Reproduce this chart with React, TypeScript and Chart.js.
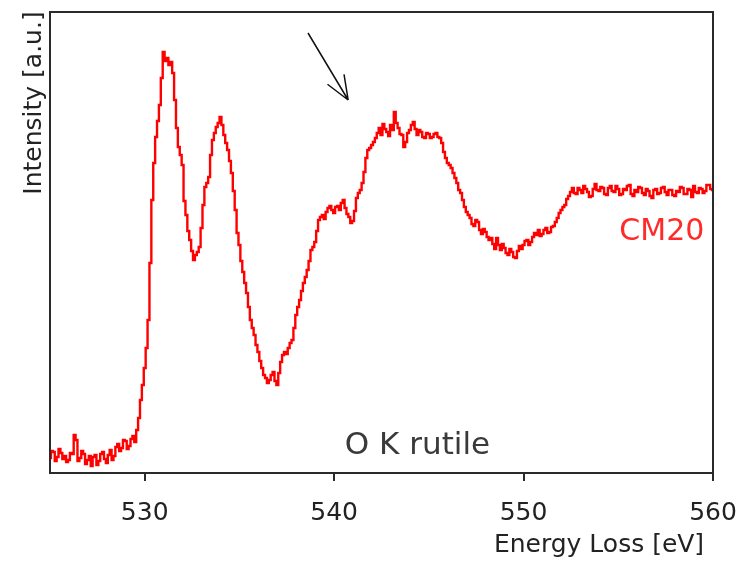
import React, { useEffect, useRef } from "react";
import { Chart, registerables } from "chart.js";

Chart.register(...registerables);

// Energy grid of the spectrum (eV)
const ENERGY_START = 525;
const ENERGY_STEP = 0.1;

// Intensity (a.u.), one value per 0.1 eV from 525.0 to 560.0 eV
const intensity = [
  15, 22, 21, 12, 16, 24, 20, 14, 17, 11,
  13, 20, 19, 38, 33, 12, 15, 22, 19, 9,
  13, 17, 7, 16, 18, 8, 12, 19, 21, 14,
  10, 18, 23, 13, 17, 26, 29, 22, 25, 33,
  32, 24, 27, 34, 37, 31, 43, 55, 73, 88,
  105, 125, 153, 210, 273, 310, 336, 352, 368, 395,
  421, 412, 415, 408, 411, 400, 373, 345, 326, 318,
  308, 272, 258, 242, 233, 222, 213, 218, 221, 226,
  245, 268, 286, 290, 296, 318, 333, 340, 346, 350,
  356, 348, 338, 330, 323, 312, 300, 282, 263, 240,
  228, 212, 201, 190, 180, 166, 153, 145, 138, 128,
  121, 112, 105, 98, 95, 90, 93, 98, 101, 92,
  88, 100, 111, 118, 121, 119, 125, 130, 133, 145,
  158, 166, 173, 182, 190, 196, 203, 212, 223, 226,
  231, 242, 253, 256, 258, 254, 261, 265, 267, 263,
  260, 266, 267, 263, 270, 273, 265, 259, 256, 250,
  252, 262, 275, 280, 283, 290, 301, 315, 323, 325,
  328, 331, 335, 340, 345, 338, 349, 344, 341, 337,
  348, 343, 361, 350, 345, 339, 338, 326, 331, 340,
  343, 348, 351, 344, 338, 343, 341, 336, 335, 340,
  339, 335, 336, 339, 340, 336, 335, 330, 321, 315,
  310, 308, 305, 300, 295, 290, 283, 280, 273, 266,
  261, 258, 255, 249, 247, 253, 251, 243, 239, 244,
  241, 236, 233, 235, 229, 224, 235, 228, 223, 229,
  225, 220, 218, 224, 221, 216, 215, 222, 227, 224,
  228, 232, 233, 228, 231, 236, 240, 238, 243, 237,
  239, 243, 245, 240, 241, 246, 247, 251, 255, 260,
  263, 266, 268, 274, 277, 281, 285, 280, 279, 285,
  283, 280, 287, 284, 281, 276, 277, 284, 289, 283,
  282, 286, 285, 279, 278, 285, 287, 282, 281, 287,
  284, 278, 279, 284, 283, 287, 288, 279, 277, 283,
  281, 286, 285, 280, 278, 284, 282, 277, 275, 283,
  284, 279, 280, 285, 286, 281, 278, 283, 283, 278,
  277, 282, 281, 286, 285, 279, 279, 284, 283, 276,
  287, 281, 280, 285, 284, 280, 282, 288, 288, 284,
  283,
];

const X_MIN = 525;
const X_MAX = 560;
const Y_MIN = 0;
const Y_MAX = 461;
const xTickValues = [530, 540, 550, 560];

const xAxisTitle = "Energy Loss [eV]";
const yAxisTitle = "Intensity [a.u.]";
const seriesLabel = "CM20";
const edgeLabel = "O K rutile";

// Annotation anchors in data coordinates [energy, intensity]
const seriesLabelAt = [557.3, 241];
const edgeLabelAt = [544.4, 27];
const arrowFrom = [538.62, 440];
const arrowTo = [540.74, 373];

const FONT = '"DejaVu Sans", "Liberation Sans", Arial, sans-serif';

const overlayPlugin = {
  id: "overlay",
  afterDraw(chart: any) {
    const { ctx, chartArea, scales } = chart;
    const xs = scales.x;
    const ys = scales.y;
    ctx.save();

    // frame
    ctx.strokeStyle = "#2a2a2a";
    ctx.lineWidth = 2;
    ctx.strokeRect(
      chartArea.left,
      chartArea.top,
      chartArea.right - chartArea.left,
      chartArea.bottom - chartArea.top
    );

    // y-axis title
    ctx.save();
    ctx.translate(chartArea.left - 9, chartArea.top + 91);
    ctx.rotate(-Math.PI / 2);
    ctx.fillStyle = "#222";
    ctx.font = `25px ${FONT}`;
    ctx.textAlign = "center";
    ctx.textBaseline = "alphabetic";
    ctx.fillText(yAxisTitle, 0, 0);
    ctx.restore();

    // x-axis title
    ctx.fillStyle = "#222";
    ctx.font = `25px ${FONT}`;
    ctx.textAlign = "center";
    ctx.textBaseline = "alphabetic";
    ctx.fillText(xAxisTitle, chartArea.right - 114, chartArea.bottom + 79);

    // series label
    ctx.fillStyle = "#ff2a2a";
    ctx.font = `30px ${FONT}`;
    ctx.textAlign = "center";
    ctx.textBaseline = "middle";
    ctx.fillText(
      seriesLabel,
      xs.getPixelForValue(seriesLabelAt[0]),
      ys.getPixelForValue(seriesLabelAt[1])
    );

    // edge label
    ctx.fillStyle = "#3a3a3a";
    ctx.font = `31px ${FONT}`;
    ctx.fillText(
      edgeLabel,
      xs.getPixelForValue(edgeLabelAt[0]),
      ys.getPixelForValue(edgeLabelAt[1])
    );

    // arrow
    const x0 = xs.getPixelForValue(arrowFrom[0]);
    const y0 = ys.getPixelForValue(arrowFrom[1]);
    const x1 = xs.getPixelForValue(arrowTo[0]);
    const y1 = ys.getPixelForValue(arrowTo[1]);
    const ang = Math.atan2(y1 - y0, x1 - x0);
    const head = 26;
    const spread = 0.38;
    ctx.strokeStyle = "#111";
    ctx.lineWidth = 1.5;
    ctx.beginPath();
    ctx.moveTo(x0, y0);
    ctx.lineTo(x1, y1);
    ctx.moveTo(x1, y1);
    ctx.lineTo(x1 - head * Math.cos(ang - spread), y1 - head * Math.sin(ang - spread));
    ctx.moveTo(x1, y1);
    ctx.lineTo(x1 - head * Math.cos(ang + spread), y1 - head * Math.sin(ang + spread));
    ctx.stroke();

    ctx.restore();
  },
};

export default function App() {
  const canvasRef = useRef<HTMLCanvasElement | null>(null);

  useEffect(() => {
    document.body.style.margin = "0";
    const canvas = canvasRef.current;
    if (!canvas) return;
    const points = intensity.map((v, i) => ({
      x: ENERGY_START + i * ENERGY_STEP,
      y: v,
    }));
    const chart = new Chart(canvas, {
      type: "line",
      data: {
        datasets: [
          {
            label: seriesLabel,
            data: points,
            borderColor: "#ff0000",
            borderWidth: 2.4,
            pointRadius: 0,
            stepped: "middle",
            fill: false,
          },
        ],
      },
      options: {
        responsive: false,
        animation: false,
        layout: { padding: { left: 50, top: 12, right: 29, bottom: 0 } },
        plugins: {
          legend: { display: false },
          tooltip: { enabled: false },
          title: { display: false },
        },
        scales: {
          x: {
            type: "linear",
            min: X_MIN,
            max: X_MAX,
            afterBuildTicks: (scale: any) => {
              scale.ticks = xTickValues.map((v) => ({ value: v }));
            },
            afterFit: (scale: any) => {
              scale.height = 88;
              scale.paddingLeft = 0;
              scale.paddingRight = 0;
            },
            grid: {
              display: true,
              drawOnChartArea: false,
              drawTicks: true,
              tickLength: 8,
              color: "#2a2a2a",
              lineWidth: 2,
            },
            border: { display: false },
            ticks: {
              color: "#222",
              font: { family: FONT, size: 25 },
              padding: 17,
              maxRotation: 0,
              autoSkip: false,
            },
          },
          y: {
            type: "linear",
            display: false,
            min: Y_MIN,
            max: Y_MAX,
          },
        },
      },
      plugins: [overlayPlugin],
    });
    return () => chart.destroy();
  }, []);

  return (
    <div style={{ position: "fixed", left: 0, top: 0, width: 742, height: 561, background: "#fff" }}>
      <canvas ref={canvasRef} width={742} height={561} style={{ display: "block" }} />
    </div>
  );
}
